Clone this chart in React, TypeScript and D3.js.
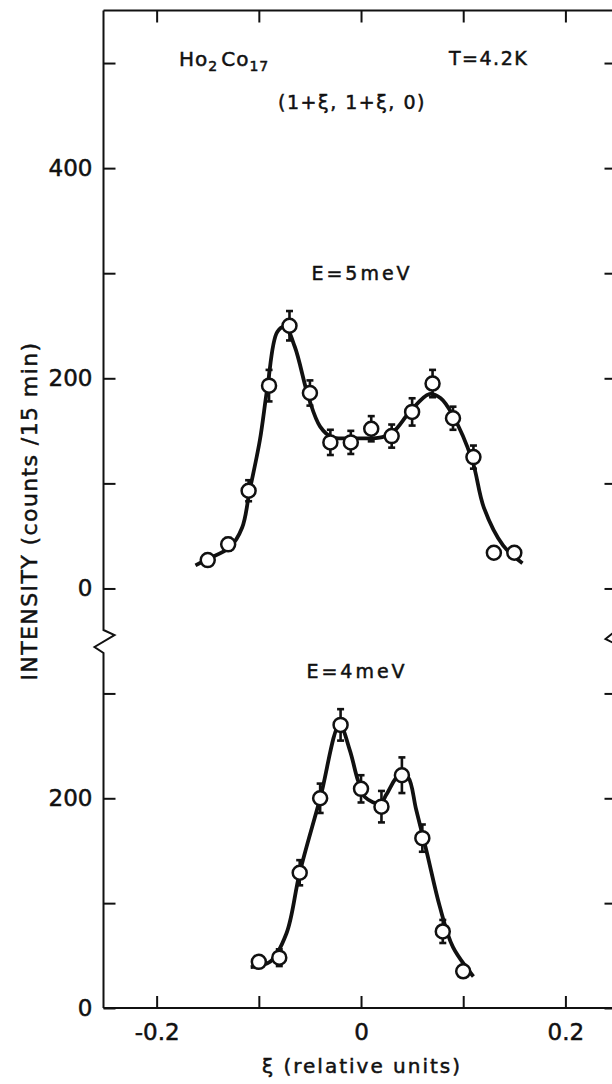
import React, { useEffect, useRef } from "react";
import * as d3 from "d3";

// ---- axis ticks ----
const xiTicks = [-0.2, -0.1, 0, 0.1, 0.2];
const xiLabelled = [-0.2, 0, 0.2];
const upperTicks = [0, 100, 200, 300, 400, 500];
const upperLabelled = [0, 200, 400];
const lowerTicks = [0, 100, 200, 300];
const lowerLabelled = [0, 200];

// ---- E = 5 meV (upper panel) ----
const xi5 = [-0.15, -0.13, -0.11, -0.09, -0.07, -0.05, -0.03, -0.01, 0.01, 0.03, 0.05, 0.07, 0.09, 0.11, 0.13, 0.15];
const counts5 = [27, 42, 93, 193, 250, 186, 139, 139, 152, 145, 168, 195, 162, 125, 34, 34];
const err5 = [5, 6, 10, 15, 14, 12, 12, 11, 12, 11, 13, 13, 11, 11, 4, 4];
const fit5Xi = [-0.162, -0.15, -0.1285, -0.1163, -0.109, -0.099, -0.0915, -0.082, -0.0743, -0.0648, -0.0514, -0.04, -0.0286, -0.0095, 0.021, 0.0325, 0.0477, 0.0668, 0.078, 0.0897, 0.1088, 0.1202, 0.139, 0.158];
const fit5Counts = [22, 28, 39, 58, 93, 141, 192, 244, 249, 230, 182, 154, 144, 143, 144, 150, 168, 185, 181, 165, 122, 77, 41, 24];

// ---- E = 4 meV (lower panel) ----
const xi4 = [-0.1, -0.08, -0.06, -0.04, -0.02, 0.0, 0.02, 0.04, 0.06, 0.08, 0.1];
const counts4 = [44, 48, 129, 200, 270, 209, 192, 222, 162, 73, 35];
const err4 = [4, 8, 12, 14, 15, 13, 15, 17, 13, 11, 4];
const fit4Xi = [-0.108, -0.089, -0.073, -0.06, -0.04, -0.021, -0.011, -0.003, 0.004, 0.019, 0.025, 0.038, 0.046, 0.054, 0.064, 0.077, 0.09, 0.11];
const fit4Counts = [39, 44, 71, 129, 200, 270, 246, 217, 201, 195, 204, 223, 220, 189, 150, 97, 58, 30];

const FONT = "'DejaVu Sans', sans-serif";

export default function App() {
  const ref = useRef<SVGSVGElement>(null);

  useEffect(() => {
    const svg = d3.select(ref.current);
    svg.selectAll("*").remove();

    const left = 103.5, right = 616.5, top = 10.5, bottom = 1008, breakY = 641;
    const x = d3.scaleLinear().domain([-0.252, 0.25]).range([left, right]);
    const yU = d3.scaleLinear().domain([-50, 550]).range([breakY, top]);
    const yL = d3.scaleLinear().domain([0, 350]).range([bottom, breakY]);

    const g = svg.append("g");
    const ink = "#111";

    // frame with break marks
    const zig = 11;
    const leftPath = `M${left},${top} L${left},${breakY - 11} L${left + zig},${breakY - 6} L${left - 9},${breakY + 6} L${left},${breakY + 12} L${left},${bottom}`;
    const rightPath = `M${right},${top} L${right},${breakY - 11} L${right - zig},${breakY - 2} L${right + 9},${breakY + 8} L${right},${breakY + 12} L${right},${bottom}`;
    g.append("path").attr("d", leftPath).attr("fill", "none").attr("stroke", ink).attr("stroke-width", 2);
    g.append("path").attr("d", rightPath).attr("fill", "none").attr("stroke", ink).attr("stroke-width", 2);
    g.append("line").attr("x1", left).attr("x2", right).attr("y1", top).attr("y2", top).attr("stroke", ink).attr("stroke-width", 2);
    g.append("line").attr("x1", left).attr("x2", right).attr("y1", bottom).attr("y2", bottom).attr("stroke", ink).attr("stroke-width", 2.2);

    const styleAxis = (sel: any) => {
      sel.select(".domain").remove();
      sel.selectAll(".tick line").attr("stroke", ink).attr("stroke-width", 2);
      sel.selectAll(".tick text").attr("font-family", FONT).attr("font-size", 23).attr("fill", ink)
        .attr("stroke", ink).attr("stroke-width", 0.5);
    };

    // left axes
    const fmtU = (d: any) => (upperLabelled.includes(d) ? String(d) : "");
    const fmtL = (d: any) => (lowerLabelled.includes(d) ? String(d) : "");
    g.append("g").attr("transform", `translate(${left},0)`)
      .call(d3.axisLeft(yU).tickValues(upperTicks).tickSize(-12).tickPadding(11).tickFormat(fmtU as any))
      .call(styleAxis);
    g.append("g").attr("transform", `translate(${left},0)`)
      .call(d3.axisLeft(yL).tickValues(lowerTicks).tickSize(-12).tickPadding(11).tickFormat(fmtL as any))
      .call(styleAxis);
    // right axes
    g.append("g").attr("transform", `translate(${right},0)`)
      .call(d3.axisRight(yU).tickValues(upperTicks).tickSize(-12).tickFormat(() => ""))
      .call(styleAxis);
    g.append("g").attr("transform", `translate(${right},0)`)
      .call(d3.axisRight(yL).tickValues(lowerTicks).tickSize(-12).tickFormat(() => ""))
      .call(styleAxis);
    // bottom / top axes
    const fmtX = (d: any) => (xiLabelled.includes(d) ? (d === 0 ? "0" : (d < 0 ? "-" : "") + Math.abs(d).toFixed(1)) : "");
    g.append("g").attr("transform", `translate(0,${bottom})`)
      .call(d3.axisBottom(x).tickValues(xiTicks).tickSize(-12).tickPadding(16).tickFormat(fmtX as any))
      .call(styleAxis);
    g.append("g").attr("transform", `translate(0,${top})`)
      .call(d3.axisTop(x).tickValues(xiTicks).tickSize(-12).tickFormat(() => ""))
      .call(styleAxis);

    // series drawing
    const drawSeries = (xs: number[], ys: number[], es: number[], fx: number[], fy: number[], yS: any) => {
      const line = d3.line<number>()
        .x((_, i) => x(fx[i]))
        .y((d) => yS(d))
        .curve(d3.curveCatmullRom.alpha(0.5));
      g.append("path").attr("d", line(fy) as string).attr("fill", "none").attr("stroke", ink).attr("stroke-width", 3.8).attr("stroke-linejoin", "round");
      const pts = xs.map((v, i) => ({ x: v, y: ys[i], e: es[i] }));
      const eb = g.append("g").attr("stroke", ink).attr("stroke-width", 2.6);
      pts.forEach((p) => {
        const cx = x(p.x);
        eb.append("line").attr("x1", cx).attr("x2", cx).attr("y1", yS(p.y - p.e)).attr("y2", yS(p.y + p.e));
        eb.append("line").attr("x1", cx - 3.5).attr("x2", cx + 3.5).attr("y1", yS(p.y + p.e)).attr("y2", yS(p.y + p.e));
        eb.append("line").attr("x1", cx - 3.5).attr("x2", cx + 3.5).attr("y1", yS(p.y - p.e)).attr("y2", yS(p.y - p.e));
      });
      g.append("g").selectAll("circle").data(pts).join("circle")
        .attr("cx", (d) => x(d.x)).attr("cy", (d) => yS(d.y)).attr("r", 7)
        .attr("fill", "#fff").attr("stroke", ink).attr("stroke-width", 2.5);
    };
    drawSeries(xi5, counts5, err5, fit5Xi, fit5Counts, yU);
    drawSeries(xi4, counts4, err4, fit4Xi, fit4Counts, yL);

    // annotations
    const txt = (tx: number, ty: number, anchor: string, size: number, ls = 0) =>
      g.append("text").attr("x", tx).attr("y", ty).attr("text-anchor", anchor)
        .attr("font-family", FONT).attr("font-size", size).attr("fill", ink)
        .attr("stroke", ink).attr("stroke-width", 0.5).attr("letter-spacing", ls);

    const ho = txt(179, 66, "start", 20, 1);
    ho.append("tspan").text("Ho");
    ho.append("tspan").attr("font-size", 14).attr("dy", 5).text("2");
    ho.append("tspan").attr("dy", -5).attr("dx", 3).text("Co");
    ho.append("tspan").attr("font-size", 14).attr("dy", 5).text("17");

    txt(449, 65, "start", 19, 1.5).text("T=4.2K");
    txt(352, 109, "middle", 19, 1.5).text("(1+ξ, 1+ξ, 0)");
    txt(362, 280, "middle", 19, 3).text("E=5meV");
    txt(357, 678, "middle", 19, 3).text("E=4meV");

    txt(362, 1073, "middle", 20, 2).text("ξ (relative units)");
    txt(0, 0, "middle", 22, 1.4)
      .attr("transform", `translate(37,511) rotate(-90)`)
      .text("INTENSITY (counts /15 min)");
  }, []);

  return (
    <svg
      ref={ref}
      width={612}
      height={1084}
      style={{ position: "absolute", left: 0, top: 0, background: "#fff" }}
    />
  );
}
